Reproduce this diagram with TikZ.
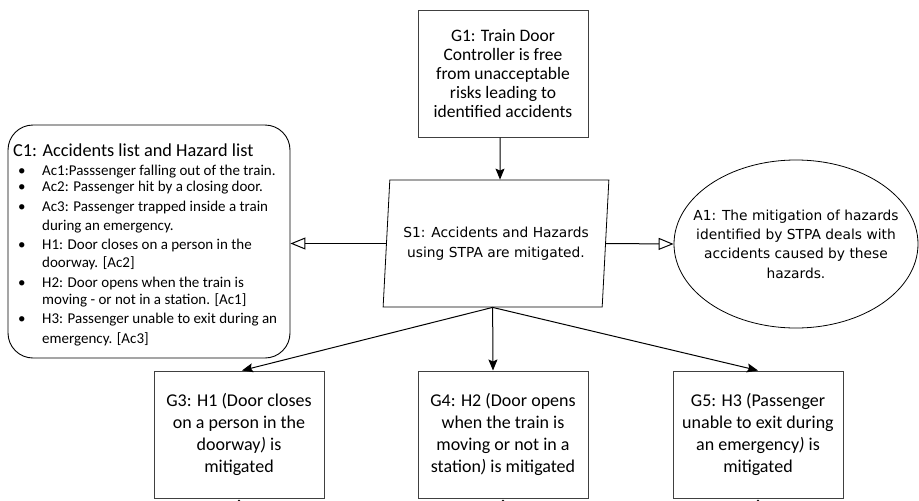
\documentclass[tikz,border=0pt]{standalone}
\usepackage{fontspec}
\setmainfont{Carlito}
\newfontfamily\tahfont{DejaVu Sans}
\usetikzlibrary{shapes.geometric,arrows.meta,calc}

\begin{document}
\begin{tikzpicture}[x=1pt,y=-1pt,
  goalbox/.style={draw=black!75, line width=1pt, minimum width=170pt,
    minimum height=127pt, inner sep=0pt, align=center,
    font=\fontsize{18}{21.7}\selectfont},
  strat/.style={draw, line width=0.8pt, trapezium, trapezium left angle=80.2,
    trapezium right angle=99.8, trapezium stretches=true,
    minimum width=226pt, minimum height=127pt, inner sep=0pt, align=center,
    font=\tahfont\fontsize{13.8}{20.5}\selectfont},
  assume/.style={draw, line width=0.8pt, ellipse, minimum width=244pt,
    minimum height=168pt, inner xsep=-20pt, inner ysep=0pt, align=center,
    font=\tahfont\fontsize{13.8}{19.3}\selectfont},
  ctxbox/.style={draw, line width=0.9pt, rounded corners=25pt,
    minimum width=282pt, minimum height=233pt, inner sep=0pt},
  ctitle/.style={anchor=base west, inner sep=0pt, font=\fontsize{18.3}{20}\selectfont},
  citem/.style={anchor=base west, inner sep=0pt, font=\fontsize{15}{18}\selectfont},
  solid arrow/.style={line width=1pt, -{Stealth[length=11pt,width=9pt,inset=2pt]}},
  open arrow/.style={line width=1pt, -{Triangle[open,length=15pt,width=12pt]}},
  undev/.style={draw, line width=0.8pt}
]
\useasboundingbox (0,0) rectangle (919,501);
\clip (0,0) rectangle (919,501);

% top goal
\node[goalbox, font=\fontsize{17.5}{18.8}\selectfont] (G1) at (503,73.5)
  {G1: Train Door\\Controller is free\\from unacceptable\\risks leading to\\identified accidents};

% strategy
\node[strat] (S1) at (496,243.5) {S1: Accidents and Hazards\\using STPA are mitigated.};
\coordinate (S1b) at ($(S1.bottom left corner)!0.5!(S1.bottom right corner)$);

% assumption
\node[assume] (A1) at (796,244)
  {A1: The mitigation of hazards\\identified by STPA deals with\\accidents caused by these\\hazards.};

% context with the accident and hazard lists
\node[ctxbox] (C1) at (149,241.5) {};
\node[ctitle] (c1title) at (13,156) {C1: Accidents list and Hazard list};
\foreach \n/\y in {a/175,b/191,c/211,d/249,e/287,f/323}
  \node[citem] (c1bul\n) at (18,\y) {\textbullet};
\node[citem] (c1ac1) at (42,175) {Ac1:Passsenger falling out of the train.};
\node[citem] (c1ac2) at (42,191) {Ac2: Passenger hit by a closing door.};
\node[citem] (c1ac3) at (42,211) {Ac3: Passenger trapped inside a train};
\node[citem] (c1ac3b) at (42,230) {during an emergency.};
\node[citem] (c1h1) at (42,249) {H1: Door closes on a person in the};
\node[citem] (c1h1b) at (42,267) {doorway. [Ac2]};
\node[citem] (c1h2) at (42,287) {H2: Door opens when the train is};
\node[citem] (c1h2b) at (42,304) {moving - or not in a station. [Ac1]};
\node[citem] (c1h3) at (42,323) {H3: Passenger unable to exit during an};
\node[citem] (c1h3b) at (42,343) {emergency. [Ac3]};

% sub-goals
\node[goalbox] (G3) at (239,434.5)
  {G3: H1 (Door closes\\on a person in the\\doorway\textit{)} is\\mitigated};
\node[goalbox] (G4) at (503,434.5)
  {G4: H2 (Door opens\\when the train is\\moving or not in a\\station\textit{)} is mitigated};
\node[goalbox] (G5) at (758,434.5)
  {G5: H3 (Passenger\\unable to exit during\\an emergency\textit{)} is\\mitigated};

% undeveloped markers under the sub-goals
\foreach \g in {G3,G4,G5}
  \draw[undev] ($(\g.south)+(0,1.8)$) -- ++(5,5) -- ++(-5,5) -- ++(-5,-5) -- cycle;

% connectors
\draw[solid arrow] ($(G1.south)+(-3,0)$) -- ($(S1.north)+(4,0)$);
\draw[open arrow] (S1.west) -- (S1.west -| C1.east);
\draw[open arrow] (S1.east) -- (A1.west);
\draw[solid arrow] (S1b) -- ($(G3.north)+(3,0)$);
\draw[solid arrow] (S1b) -- ($(G4.north)+(-10,0)$);
\draw[solid arrow] (S1b) -- (G5.north);
\end{tikzpicture}
\end{document}
